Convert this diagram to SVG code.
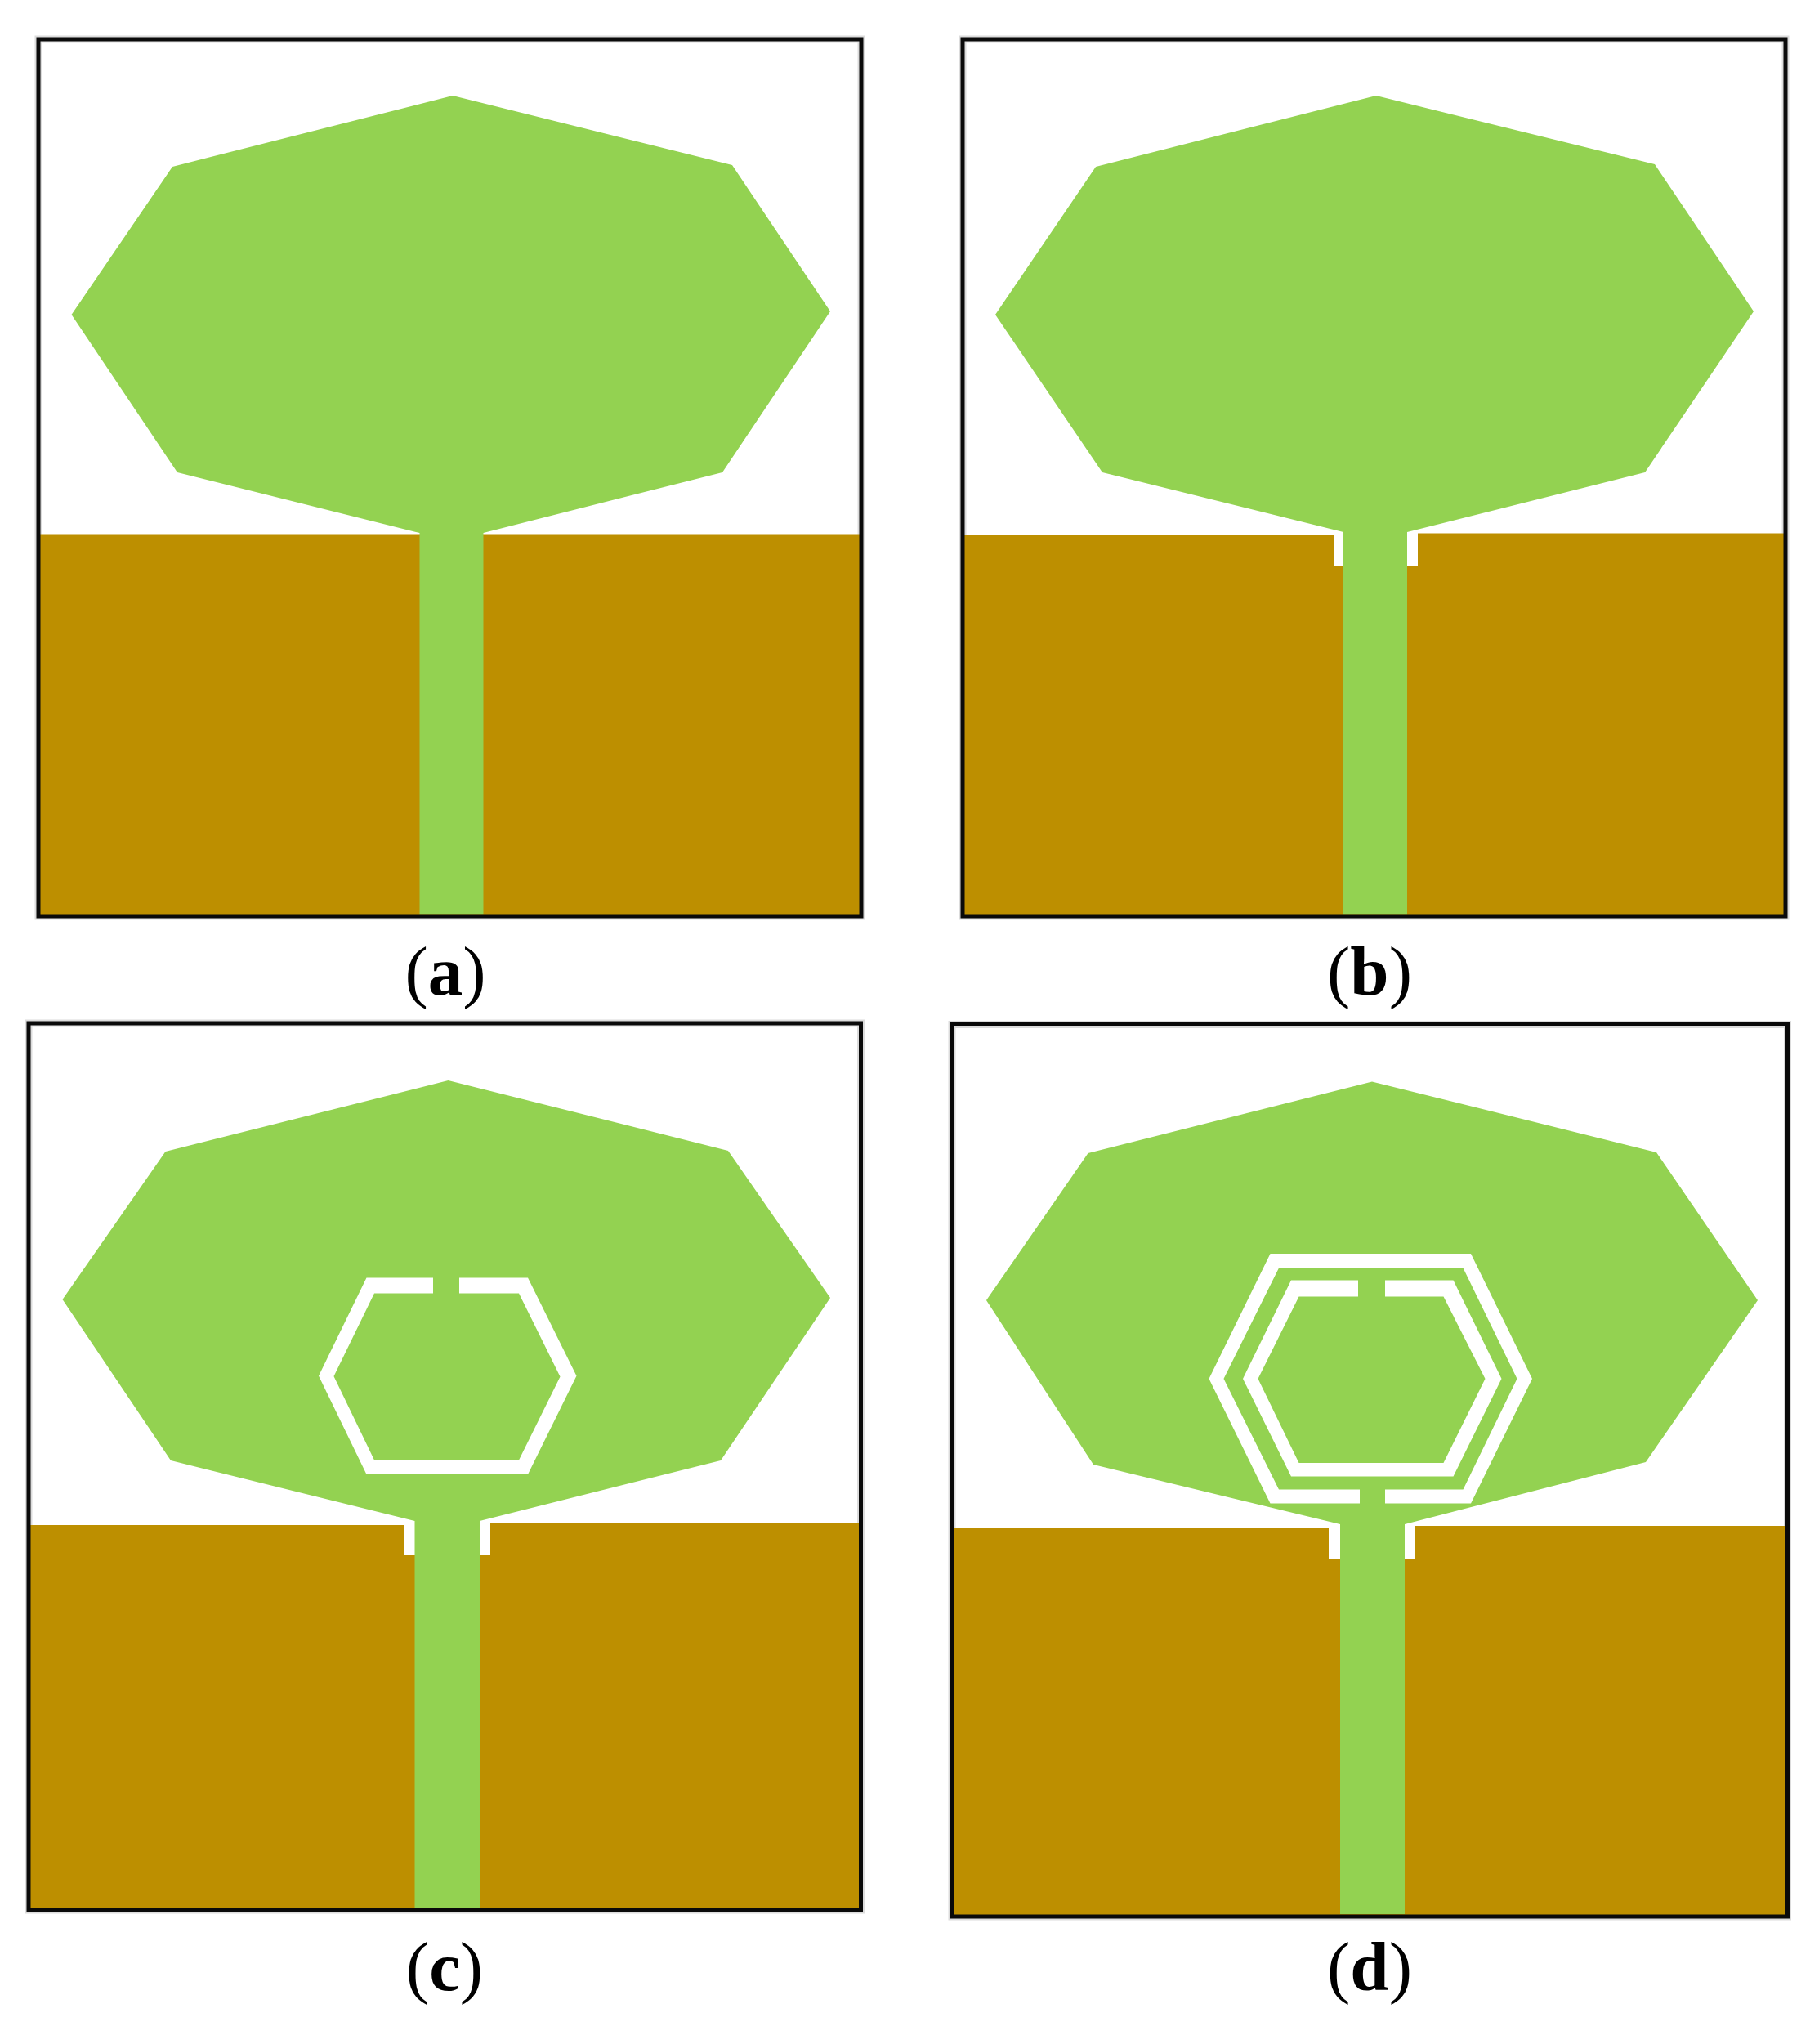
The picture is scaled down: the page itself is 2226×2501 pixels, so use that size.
<svg xmlns="http://www.w3.org/2000/svg" width="2226" height="2501" viewBox="0 0 2226 2501">
<style>
.g{fill:#93d251}
.b{fill:#bd8f00}
.w{fill:#fff}
.f{fill:none;stroke:#0a0a0a;stroke-width:5}
.h{fill:none;stroke:#dcdcdc;stroke-width:9}
.t{font-family:"Liberation Serif","Times New Roman",serif;font-size:85px;text-anchor:middle;fill:#000}
.t tspan{font-weight:bold}
</style>
<rect width="2226" height="2501" fill="#fff"/>
<g id="panel-a">
<rect class="h" x="47" y="48" width="1007" height="1073"/>
<rect class="b" x="47" y="654.5" width="1007" height="466"/>
<polygon class="g" points="554,117 896,202 1016,381 884,578 591.5,652 591.5,1118.5 513.5,1118.5 513.5,652 217,578 87.5,385 211,204"/>
<rect class="f" x="47" y="48" width="1007" height="1073"/>
<text class="t" x="545" y="1217">(<tspan>a</tspan>)</text>
</g>
<g id="panel-b">
<rect class="h" x="1178" y="48" width="1007" height="1073"/>
<rect class="b" x="1178" y="655" width="1007" height="465"/>
<rect class="b" x="1722" y="652.5" width="463" height="10"/>
<polygon class="w" points="1632,650 1735,650 1735,693 1632,693"/>
<polygon class="g" points="1684,117 2025,201 2146,381 2013,578 1722,651 1722,1118.5 1644,1118.5 1644,651 1349,578 1218,385 1341,204"/>
<rect class="f" x="1178" y="48" width="1007" height="1073"/>
<text class="t" x="1676" y="1217">(<tspan>b</tspan>)</text>
</g>
<g id="panel-c">
<rect class="h" x="35" y="1252" width="1018.5" height="1085"/>
<rect class="b" x="35" y="1866" width="1018.5" height="470"/>
<rect class="b" x="600" y="1863" width="453.5" height="10"/>
<polygon class="w" points="494,1860 600,1860 600,1903 494,1903"/>
<polygon class="g" points="548.5,1322 891,1408 1016,1588 882,1787 587,1861 587,2334 507.5,2334 507.5,1861 209,1787 76.5,1590 202.5,1409"/>
<path class="w" fill-rule="evenodd" d="M530,1563.5H448.5L390,1683.5L448.5,1804H646L705.5,1683.5L646,1563.5H562V1582.5H635L685.5,1684.5L635,1786.5H458L408.5,1684L458,1582.5H530Z"/>
<rect class="f" x="35" y="1252" width="1018.5" height="1085"/>
<text class="t" x="544" y="2435">(<tspan>c</tspan>)</text>
</g>
<g id="panel-d">
<rect class="h" x="1165" y="1253.5" width="1022.5" height="1091.5"/>
<rect class="b" x="1165" y="1870" width="1022.5" height="474"/>
<rect class="b" x="1732" y="1867" width="455.5" height="10"/>
<polygon class="w" points="1626,1864 1732,1864 1732,1907 1626,1907"/>
<polygon class="g" points="1679,1323.5 2027,1410 2151,1591 2014,1789 1719,1865 1719,2342 1640,2342 1640,1865 1338,1792 1207,1591 1331.5,1411"/>
<path class="w" fill-rule="evenodd" d="M1664,1839.5H1554.5L1479.5,1687L1554.5,1534H1800L1875,1687L1800,1839.5H1695V1822.5H1790.5L1856.5,1687L1790.5,1551.5H1565L1497.5,1687L1565,1822.5H1664Z"/>
<path class="w" fill-rule="evenodd" d="M1662,1566.5H1580L1521,1687L1580,1806.5H1778.5L1837.5,1687L1778.5,1566.5H1695V1586.5H1766.5L1817.5,1687L1766.5,1790H1589.5L1539.5,1687L1589.5,1586.5H1662Z"/>
<rect class="f" x="1165" y="1253.5" width="1022.5" height="1091.5"/>
<text class="t" x="1676" y="2435">(<tspan>d</tspan>)</text>
</g>
</svg>
